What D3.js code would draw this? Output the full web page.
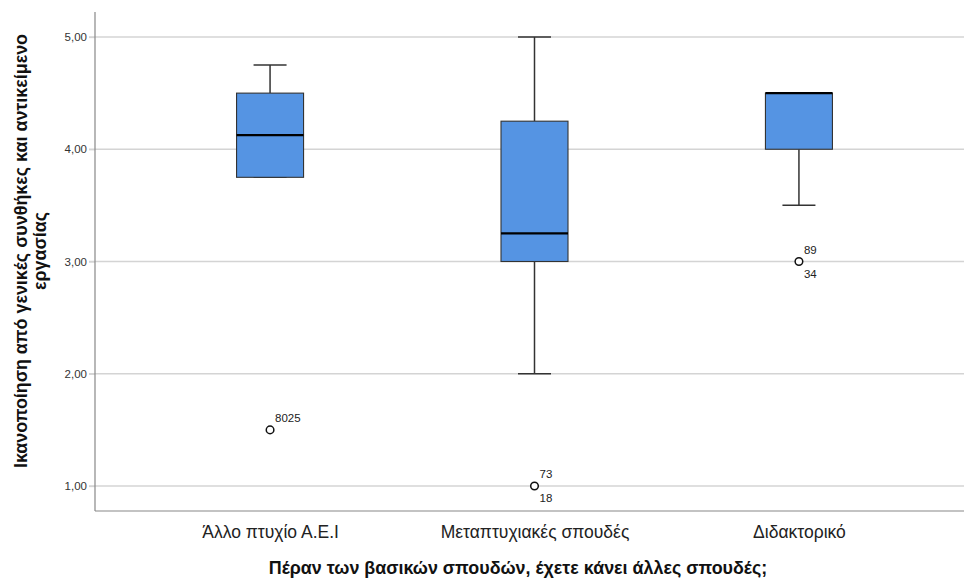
<!DOCTYPE html>
<html><head><meta charset="utf-8">
<script src="https://cdn.jsdelivr.net/npm/d3@7"></script>
<style>body{margin:0;background:#fff}svg{display:block}</style>
</head><body>
<script>
const categories = ["Άλλο πτυχίο Α.Ε.Ι", "Μεταπτυχιακές σπουδές", "Διδακτορικό"];
const whiskerLow = [3.75, 2.0, 3.5];
const q1 = [3.75, 3.0, 4.0];
const median = [4.125, 3.25, 4.5];
const q3 = [4.5, 4.25, 4.5];
const whiskerHigh = [4.75, 5.0, 4.5];
const outliers = [
  {cat: 0, value: 1.5, labels: ["8025"]},
  {cat: 1, value: 1.0, labels: ["73", "18"]},
  {cat: 2, value: 3.0, labels: ["89", "34"]}
];
const yTicks = [1, 2, 3, 4, 5];
const yTitle = ["Ικανοποίηση από γενικές συνθήκες και αντικείμενο", "εργασίας"];
const xTitle = "Πέραν των βασικών σπουδών, έχετε κάνει άλλες σπουδές;";

(function () {
const W = 964, H = 578;
const mLeft = 95, mRight = 974, mTop = 12, mBottom = 511;
const svg = d3.select("body").append("svg").attr("width", W).attr("height", H);

const y = d3.scaleLinear().domain([0.7773, 5.2227]).range([mBottom, mTop]);
const x = d3.scalePoint().domain(categories).range([mLeft, mRight]).padding(0.662);

svg.append("g").selectAll("line").data(yTicks).join("line")
  .attr("x1", mLeft - 6).attr("x2", W).attr("y1", d => y(d)).attr("y2", d => y(d))
  .attr("stroke", "#d4d4d4").attr("stroke-width", 1.3);

const ya = svg.append("g").attr("transform", `translate(${mLeft},0)`)
  .call(d3.axisLeft(y).tickValues(yTicks).tickSize(6).tickFormat(d => d3.format(".2f")(d).replace(".", ",")));
ya.select(".domain").remove();
ya.selectAll(".tick line").attr("stroke", "#d4d4d4").attr("stroke-width", 1.3);
ya.selectAll(".tick text").attr("font-family", "Liberation Sans, Arial, sans-serif").attr("font-size", 11.5).attr("fill", "#333").attr("x", -8);

svg.append("line").attr("x1", mLeft).attr("x2", mLeft).attr("y1", mTop).attr("y2", mBottom).attr("stroke", "#888").attr("stroke-width", 1.2);
svg.append("line").attr("x1", mLeft).attr("x2", W).attr("y1", mBottom).attr("y2", mBottom).attr("stroke", "#888").attr("stroke-width", 1.2);

const xa = svg.append("g").attr("transform", `translate(0,${mBottom})`)
  .call(d3.axisBottom(x).tickSize(0));
xa.select(".domain").remove();
xa.selectAll(".tick text").attr("font-family", "Liberation Sans, Arial, sans-serif")
  .attr("font-size", 17.5).attr("fill", "#222").attr("dy", 0).attr("y", 27);

const boxW = 67, capW = 33;
const g = svg.append("g");
categories.forEach((c, i) => {
  const cx = x(c);
  g.append("line").attr("x1", cx).attr("x2", cx).attr("y1", y(whiskerHigh[i])).attr("y2", y(q3[i])).attr("stroke", "#333").attr("stroke-width", 1.5);
  g.append("line").attr("x1", cx).attr("x2", cx).attr("y1", y(q1[i])).attr("y2", y(whiskerLow[i])).attr("stroke", "#333").attr("stroke-width", 1.5);
  [whiskerHigh[i], whiskerLow[i]].forEach(v => {
    g.append("line").attr("x1", cx - capW / 2).attr("x2", cx + capW / 2).attr("y1", y(v)).attr("y2", y(v)).attr("stroke", "#333").attr("stroke-width", 1.5);
  });
  g.append("rect").attr("x", cx - boxW / 2).attr("width", boxW).attr("y", y(q3[i])).attr("height", y(q1[i]) - y(q3[i]))
    .attr("fill", "#5594e3").attr("stroke", "#333").attr("stroke-width", 1.1);
  g.append("line").attr("x1", cx - boxW / 2).attr("x2", cx + boxW / 2).attr("y1", y(median[i])).attr("y2", y(median[i])).attr("stroke", "#000").attr("stroke-width", 2.2);
});

outliers.forEach(o => {
  const cx = x(categories[o.cat]), cy = y(o.value);
  g.append("circle").attr("cx", cx).attr("cy", cy).attr("r", 3.8).attr("fill", "#fff").attr("stroke", "#111").attr("stroke-width", 1.5);
  g.append("text").attr("x", cx + 5).attr("y", cy - 8).text(o.labels[0])
    .attr("font-family", "Liberation Sans, Arial, sans-serif").attr("font-size", 11.5).attr("fill", "#222");
  if (o.labels[1]) {
    g.append("text").attr("x", cx + 5).attr("y", cy + 16).text(o.labels[1])
      .attr("font-family", "Liberation Sans, Arial, sans-serif").attr("font-size", 11.5).attr("fill", "#222");
  }
});

svg.append("text").attr("x", 518).attr("y", 574).attr("text-anchor", "middle")
  .attr("font-family", "Liberation Sans, Arial, sans-serif").attr("font-weight", "bold").attr("font-size", 17.9).attr("fill", "#111").text(xTitle);

const yt = svg.append("text").attr("transform", `translate(27,251) rotate(-90)`).attr("text-anchor", "middle")
  .attr("font-family", "Liberation Sans, Arial, sans-serif").attr("font-weight", "bold").attr("font-size", 17.9).attr("fill", "#111");
yt.selectAll("tspan").data(yTitle).join("tspan").attr("x", 0).attr("dy", (d, i) => i === 0 ? 0 : 19).text(d => d);
})();
</script>
</body></html>
